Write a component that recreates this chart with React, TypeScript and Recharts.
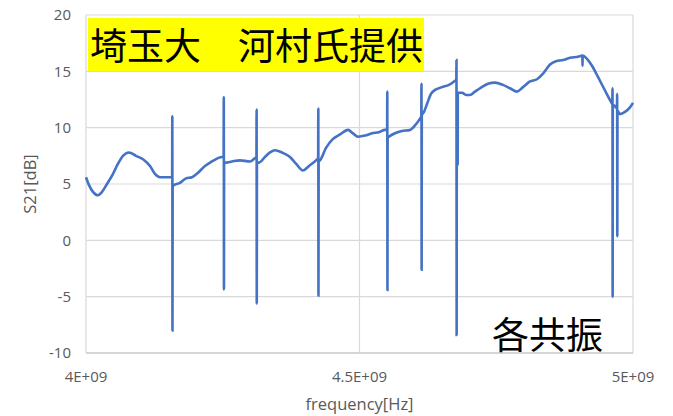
import React from "react";
import { LineChart, Line, XAxis, YAxis, CartesianGrid } from "recharts";

// Measured S21 sweep, frequency in GHz (axis shows it as E+09).
// Each resonance is a peak/trough pair packed into a very narrow span.
const freqGHz = [
  // 4.00 - 4.16
  4.0, 4.0055, 4.0128, 4.0219, 4.0293, 4.0384, 4.0494, 4.0585, 4.0676, 4.0786,
  4.0914, 4.1042, 4.117, 4.1261, 4.1353, 4.1444, 4.1554,
  // resonance 1
  4.1575, 4.1578, 4.1581, 4.1584,
  4.1609, 4.1718, 4.1828, 4.1938, 4.2048, 4.2175, 4.2303, 4.2413, 4.2486,
  // resonance 2
  4.2516, 4.2519, 4.2522, 4.2525,
  4.2559, 4.2669, 4.2815, 4.2998, 4.309,
  // resonance 3
  4.3116, 4.3119, 4.3122, 4.3125,
  4.3163, 4.3272, 4.3364, 4.3455, 4.3583, 4.3729, 4.3839, 4.3967, 4.4077, 4.4205,
  // resonance 4
  4.4244, 4.4247, 4.425, 4.4253,
  4.4278, 4.4388, 4.4516, 4.4644, 4.479, 4.4881, 4.4973, 4.5101, 4.5229, 4.5356,
  4.5466,
  // resonance 5
  4.5505, 4.5508, 4.5511, 4.5514,
  4.5539, 4.5649, 4.5777, 4.5923, 4.6015, 4.6106,
  // resonance 6
  4.613, 4.6133, 4.6136, 4.6139,
  4.6179, 4.6234, 4.6307, 4.6399, 4.6508, 4.6636, 4.6728,
  // resonance 7 with its small side dip
  4.677, 4.6773, 4.6776, 4.6779, 4.6792, 4.6795, 4.6798,
  4.6874, 4.6947, 4.702, 4.7111, 4.7203, 4.7349, 4.7477, 4.7623, 4.7751, 4.7879,
  4.7989, 4.8117, 4.8245, 4.8355, 4.8483, 4.8592, 4.872, 4.8848, 4.8995,
  // notch at the top
  4.9074, 4.9077, 4.908,
  4.9159, 4.925, 4.936, 4.9488, 4.9598,
  // resonance 8
  4.9622, 4.9625, 4.9628, 4.9631,
  4.9671,
  // resonance 9
  4.9707, 4.971, 4.9713, 4.9716,
  4.9762, 4.9854, 4.9945, 5.0,
];

const s21dB = [
  5.6, 4.9, 4.3, 4.0, 4.3, 5.0, 5.9, 6.8, 7.5, 7.8,
  7.5, 7.2, 6.6, 5.9, 5.6, 5.6, 5.6,
  5.6, 11.0, -8.0, 4.8,
  4.9, 5.1, 5.5, 5.6, 6.0, 6.6, 7.0, 7.3, 7.4,
  7.4, 12.7, -4.35, 6.9,
  6.9, 7.0, 7.1, 7.0, 7.3,
  7.4, 11.6, -5.6, 6.9,
  6.9, 7.4, 7.8, 8.0, 7.8, 7.4, 6.8, 6.2, 6.6, 7.1,
  7.3, 11.7, -4.9, 7.0,
  7.1, 8.2, 9.0, 9.4, 9.8, 9.5, 9.2, 9.3, 9.5, 9.6,
  9.8,
  9.8, 13.2, -4.4, 9.1,
  9.2, 9.5, 9.7, 9.8, 10.2, 10.8,
  11.0, 13.9, -2.6, 11.1,
  11.4, 12.1, 13.0, 13.4, 13.6, 13.8, 14.1,
  14.3, 16.0, -8.4, 13.1, 13.1, 6.7, 13.1,
  13.1, 12.9, 12.9, 13.2, 13.5, 13.9, 14.0, 13.8, 13.5, 13.2,
  13.6, 14.1, 14.3, 14.8, 15.6, 15.9, 16.0, 16.2, 16.3,
  16.4, 15.5, 16.4,
  16.1, 15.5, 14.5, 13.3, 12.3,
  12.1, 13.5, -5.0, 12.0,
  11.9,
  11.7, 13.0, 0.35, 11.5,
  11.2, 11.4, 11.8, 12.2,
];

const xTicks = [4, 4.5, 5];
const yTicks = [-10, -5, 0, 5, 10, 15, 20];

const titleText = "埼玉大　河村氏提供";
const noteText = "各共振";

const data = freqGHz.map((f, i) => ({ f, s21: s21dB[i] }));

const W = 673;
const H = 416;
const axisFont = "'Open Sans', 'Noto Sans', sans-serif";
const cjkFont = "'Noto Sans CJK JP', sans-serif";

export default function App() {
  return (
    <div
      style={{
        position: "absolute",
        left: 0,
        top: 0,
        width: W,
        height: H,
        background: "#ffffff",
        fontFamily: axisFont,
      }}
    >
      <LineChart
        width={W}
        height={H}
        data={data}
        margin={{ top: 15, right: 40, bottom: 0, left: 0 }}
      >
        <CartesianGrid stroke="#D9D9D9" strokeWidth={1.2} />
        <XAxis
          type="number"
          dataKey="f"
          domain={[4, 5]}
          ticks={xTicks}
          interval={0}
          tickFormatter={(v: number) => `${v}E+09`}
          height={63}
          tickSize={0}
          tickMargin={18}
          axisLine={{ stroke: "#BFBFBF", strokeWidth: 1.2 }}
          tick={{ fill: "#595959", fontSize: 15 }}
          label={{
            value: "frequency[Hz]",
            position: "insideBottom",
            offset: 6,
            fill: "#595959",
            fontSize: 16.5,
          }}
        />
        <YAxis
          type="number"
          domain={[-10, 20]}
          ticks={yTicks}
          interval={0}
          width={86}
          tickSize={0}
          tickMargin={15}
          axisLine={false}
          tick={{ fill: "#595959", fontSize: 15 }}
          label={{
            value: "S21[dB]",
            angle: -90,
            position: "center",
            dx: -13,
            fill: "#595959",
            fontSize: 16.5,
          }}
        />
        <Line
          type="monotone"
          dataKey="s21"
          stroke="#4472C4"
          strokeWidth={2.6}
          dot={false}
          isAnimationActive={false}
        />
      </LineChart>

      {/* source note, yellow box in the upper left of the plot */}
      <div
        style={{
          position: "absolute",
          left: 88,
          top: 18,
          width: 336,
          height: 53,
          background: "#FFFF00",
          fontFamily: cjkFont,
          fontSize: 37,
          lineHeight: "53px",
          color: "#000",
          whiteSpace: "nowrap",
          paddingLeft: 2,
          boxSizing: "border-box",
        }}
      >
        {titleText}
      </div>

      <div
        style={{
          position: "absolute",
          left: 492,
          top: 315,
          fontFamily: cjkFont,
          fontSize: 37,
          lineHeight: "37px",
          color: "#000",
          whiteSpace: "nowrap",
        }}
      >
        {noteText}
      </div>
    </div>
  );
}
